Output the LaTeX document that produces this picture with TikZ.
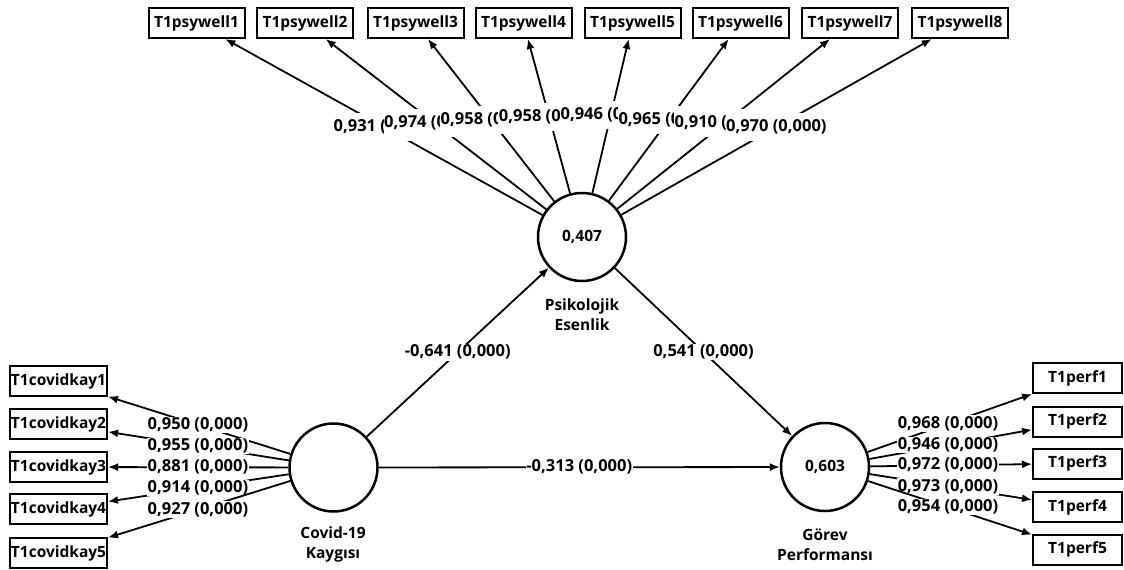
\documentclass[tikz,border=0pt]{standalone}
\usepackage{fontspec}
\setmainfont{Open Sans}
\usetikzlibrary{calc,arrows.meta}
\begin{document}
\begin{tikzpicture}[x=1pt,y=-1pt,
  every node/.style={font=\bfseries\fontsize{15.5}{20}\selectfont},
  ind/.style={draw,line width=2pt,minimum width=96pt,minimum height=30pt,inner sep=1pt},
  lat/.style={draw,circle,line width=2.5pt,minimum size=88pt,inner sep=0pt},
  lbl/.style={fill=white,inner xsep=0.5pt,inner ysep=1pt,font=\bfseries\fontsize{16.5}{18}\selectfont},
  toplbl/.style={lbl,inner ysep=6.5pt},
  arr/.style={line width=1.8pt,-{Latex[length=10pt,width=8pt]}},
  ]
\useasboundingbox (0,0) rectangle (1124,570);

% latent variables
\node[lat] (psy) at (582,237) {0,407};
\node[lat] (cov) at (333.5,467.5) {};
\node[lat] (gor) at (825,467) {0,603};
\node[align=center] (psyn) at (582,315) {Psikolojik\\Esenlik};
\node[align=center] (covn) at (333,544) {Covid-19\\Kaygısı};
\node[align=center] (gorn) at (825,545) {Görev\\Performansı};

% indicators of Psikolojik Esenlik
\node[ind] (p1) at (196.5,23) {T1psywell1};
\node[ind] (p2) at (305,23) {T1psywell2};
\node[ind] (p3) at (415.5,23) {T1psywell3};
\node[ind] (p4) at (523.5,23) {T1psywell4};
\node[ind] (p5) at (632.5,23) {T1psywell5};
\node[ind] (p6) at (740.5,23) {T1psywell6};
\node[ind] (p7) at (850,23) {T1psywell7};
\node[ind] (p8) at (960,23) {T1psywell8};

\draw[arr] (psy) -- (p1);
\node[toplbl] (lp1) at ($(psy)!0.514!(p1)$) {0,931 (0,000)};
\draw[arr] (psy) -- (p2);
\node[toplbl] (lp2) at ($(psy)!0.533!(p2)$) {0,974 (0,000)};
\draw[arr] (psy) -- (p3);
\node[toplbl] (lp3) at ($(psy)!0.547!(p3)$) {0,958 (0,000)};
\draw[arr] (psy) -- (p4);
\node[toplbl] (lp4) at ($(psy)!0.561!(p4)$) {0,958 (0,000)};
\draw[arr] (psy) -- (p5);
\node[toplbl] (lp5) at ($(psy)!0.570!(p5)$) {0,946 (0,000)};
\draw[arr] (psy) -- (p6);
\node[toplbl] (lp6) at ($(psy)!0.547!(p6)$) {0,965 (0,000)};
\draw[arr] (psy) -- (p7);
\node[toplbl] (lp7) at ($(psy)!0.533!(p7)$) {0,910 (0,000)};
\draw[arr] (psy) -- (p8);
\node[toplbl] (lp8) at ($(psy)!0.514!(p8)$) {0,970 (0,000)};

% indicators of Covid-19 Kaygısı
\node[ind] (c1) at (58.5,381) {T1covidkay1};
\node[ind] (c2) at (58.5,424) {T1covidkay2};
\node[ind] (c3) at (58.5,467) {T1covidkay3};
\node[ind] (c4) at (58.5,509) {T1covidkay4};
\node[ind] (c5) at (58.5,553) {T1covidkay5};

\draw[arr] (cov) -- (c1);
\node[lbl] (lc1) at ($(cov)!0.493!(c1)$) {0,950 (0,000)};
\draw[arr] (cov) -- (c2);
\node[lbl] (lc2) at ($(cov)!0.493!(c2)$) {0,955 (0,000)};
\draw[arr] (cov) -- (c3);
\node[lbl] (lc3) at ($(cov)!0.493!(c3)$) {0,881 (0,000)};
\draw[arr] (cov) -- (c4);
\node[lbl] (lc4) at ($(cov)!0.493!(c4)$) {0,914 (0,000)};
\draw[arr] (cov) -- (c5);
\node[lbl] (lc5) at ($(cov)!0.493!(c5)$) {0,927 (0,000)};

% indicators of Görev Performansı
\node[ind,minimum width=89pt] (g1) at (1077.5,378) {T1perf1};
\node[ind,minimum width=89pt] (g2) at (1077.5,421.5) {T1perf2};
\node[ind,minimum width=89pt] (g3) at (1077.5,463.5) {T1perf3};
\node[ind,minimum width=89pt] (g4) at (1077.5,507) {T1perf4};
\node[ind,minimum width=89pt] (g5) at (1077.5,549.5) {T1perf5};

\draw[arr] (gor) -- (g1);
\node[lbl] (lg1) at ($(gor)!0.487!(g1)$) {0,968 (0,000)};
\draw[arr] (gor) -- (g2);
\node[lbl] (lg2) at ($(gor)!0.487!(g2)$) {0,946 (0,000)};
\draw[arr] (gor) -- (g3);
\node[lbl] (lg3) at ($(gor)!0.487!(g3)$) {0,972 (0,000)};
\draw[arr] (gor) -- (g4);
\node[lbl] (lg4) at ($(gor)!0.487!(g4)$) {0,973 (0,000)};
\draw[arr] (gor) -- (g5);
\node[lbl] (lg5) at ($(gor)!0.487!(g5)$) {0,954 (0,000)};

% structural paths
\draw[arr] (cov) -- node[lbl] (s1) {-0,641 (0,000)} (psy);
\draw[arr] (psy) -- node[lbl] (s2) {0,541 (0,000)} (gor);
\draw[arr] (cov) -- node[lbl] (s3) {-0,313 (0,000)} (gor);
\end{tikzpicture}
\end{document}
